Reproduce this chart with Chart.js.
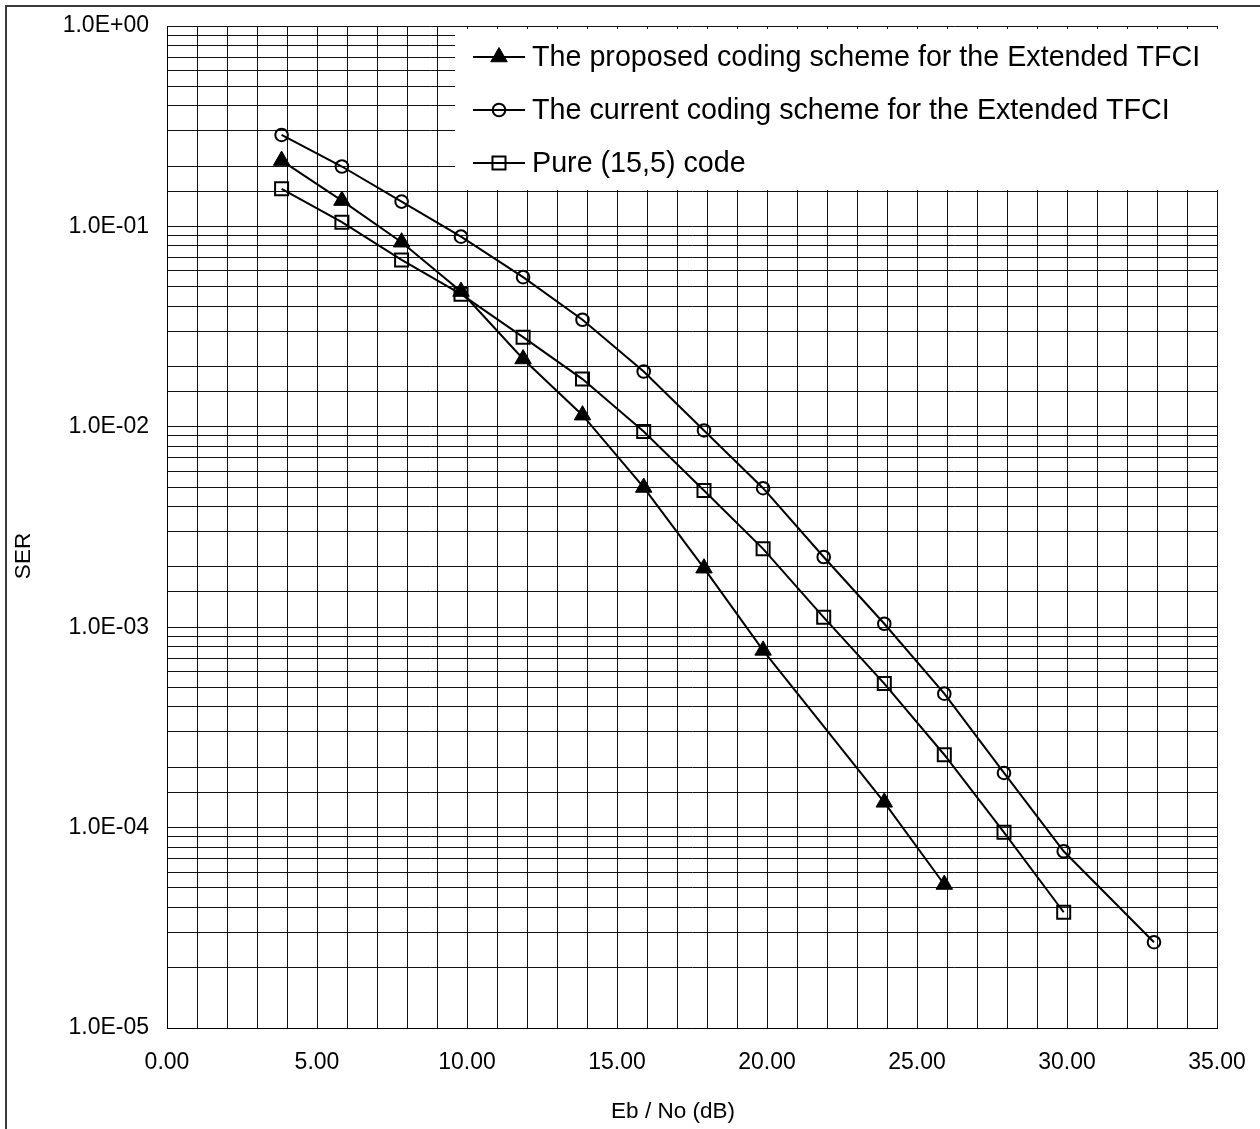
<!DOCTYPE html>
<html>
<head>
<meta charset="utf-8">
<script src="https://cdn.jsdelivr.net/npm/chart.js@4/dist/chart.umd.min.js"></script>
<style>
  html, body { margin: 0; padding: 0; background: #fff; overflow: hidden; }
  #wrap { width: 1260px; height: 1129px; }
</style>
</head>
<body>
<div id="wrap"><canvas id="ser"></canvas></div>
<script>
// Eb/No (dB) operating points of each simulated curve
const proposedEbNo = [3.82, 5.83, 7.82, 9.8, 11.87, 13.85, 15.89, 17.9, 19.87, 23.91, 25.91];
const currentEbNo  = [3.82, 5.83, 7.82, 9.8, 11.87, 13.85, 15.89, 17.9, 19.87, 21.89, 23.91, 25.91, 27.9, 29.89, 32.9];
const pureEbNo     = [3.82, 5.83, 7.82, 9.8, 11.87, 13.85, 15.89, 17.9, 19.87, 21.89, 23.91, 25.91, 27.9, 29.89];

// Symbol error rates
const proposedSER = [0.213, 0.1345, 0.0834, 0.0473, 0.0218, 0.01143, 0.00498, 0.00197, 0.000766, 0.0001337, 0.000052];
const currentSER  = [0.286, 0.199, 0.133, 0.0889, 0.0558, 0.0342, 0.01887, 0.00959, 0.00494, 0.00224, 0.00104, 0.000466, 0.0001874, 0.0000762, 0.0000268];
const pureSER     = [0.154, 0.105, 0.068, 0.0459, 0.028, 0.0173, 0.00947, 0.00481, 0.00246, 0.00112, 0.000523, 0.000231, 0.0000947, 0.0000378];

const seriesLabels = [
  'The proposed coding scheme for the Extended TFCI',
  'The current coding scheme for the Extended TFCI',
  'Pure (15,5) code'
];

const xTitle = 'Eb / No (dB)';
const yTitle = 'SER';

const FONT = '"Liberation Sans", Arial, Helvetica, sans-serif';

function zip(xs, ys) { return xs.map((x, i) => ({ x: x, y: ys[i] })); }

function sciLabel(v) {
  const e = Math.log10(v);
  const r = Math.round(e);
  if (Math.abs(e - r) > 1e-6) return '';
  const sign = r < 0 ? '-' : '+';
  const mag = String(Math.abs(r)).padStart(2, '0');
  return '1.0E' + sign + mag;
}

// Marker drawing shared by the legend so it shows the same symbols as the curves
function drawMarker(ctx, ds, x, y) {
  ctx.save();
  ctx.lineWidth = ds.pointBorderWidth;
  ctx.strokeStyle = ds.pointBorderColor;
  ctx.fillStyle = ds.pointBackgroundColor;
  const r = ds.pointRadius;
  ctx.beginPath();
  if (ds.pointStyle === 'triangle') {
    let a = 0;
    ctx.moveTo(x + Math.sin(a) * r, y - Math.cos(a) * r);
    a += 2 * Math.PI / 3;
    ctx.lineTo(x + Math.sin(a) * r, y - Math.cos(a) * r);
    a += 2 * Math.PI / 3;
    ctx.lineTo(x + Math.sin(a) * r, y - Math.cos(a) * r);
    ctx.closePath();
  } else if (ds.pointStyle === 'rect') {
    const s = r * Math.SQRT1_2;
    ctx.rect(x - s, y - s, 2 * s, 2 * s);
  } else {
    ctx.arc(x, y, r, 0, Math.PI * 2);
  }
  ctx.fill();
  ctx.stroke();
  ctx.restore();
}

const framePlugin = {
  id: 'frame',
  beforeDraw(chart) {
    const ctx = chart.ctx;
    ctx.save();
    ctx.fillStyle = '#fff';
    ctx.fillRect(0, 0, chart.width, chart.height);
    ctx.strokeStyle = '#3a3a3a';
    ctx.lineWidth = 2;
    ctx.strokeRect(6, 6, chart.width + 20, chart.height + 20);
    ctx.restore();
  },
  afterDraw(chart) {
    const ctx = chart.ctx;
    const area = chart.chartArea;
    ctx.save();
    // axis titles
    ctx.fillStyle = '#000';
    ctx.font = '22.5px ' + FONT;
    ctx.textAlign = 'center';
    ctx.textBaseline = 'middle';
    ctx.fillText(xTitle, 673, 1112);
    ctx.translate(24, 556);
    ctx.rotate(-Math.PI / 2);
    ctx.fillText(yTitle, 0, 0);
    ctx.restore();

    // legend panel inside the plot area
    ctx.save();
    const boxLeft = 455, boxTop = area.top + 3;
    ctx.fillStyle = '#fff';
    ctx.fillRect(boxLeft, boxTop, area.right + 2 - boxLeft, 161);
    const rows = [57, 110, 163];
    chart.data.datasets.forEach((ds, i) => {
      const y = rows[i];
      ctx.strokeStyle = ds.borderColor;
      ctx.lineWidth = ds.borderWidth;
      ctx.beginPath();
      ctx.moveTo(473, y);
      ctx.lineTo(525, y);
      ctx.stroke();
      drawMarker(ctx, ds, 499, y);
      ctx.fillStyle = '#000';
      ctx.font = '28.7px ' + FONT;
      ctx.textAlign = 'left';
      ctx.textBaseline = 'middle';
      ctx.fillText(ds.label, 532, y + 1);
    });
    ctx.restore();
  }
};

const lineStyle = { borderColor: '#000', borderWidth: 2, tension: 0, pointBorderColor: '#000', pointBorderWidth: 2 };

new Chart(document.getElementById('ser'), {
  type: 'line',
  data: {
    datasets: [
      Object.assign({}, lineStyle, {
        label: seriesLabels[0],
        data: zip(proposedEbNo, proposedSER),
        pointStyle: 'triangle', pointRadius: 9.5, pointBorderWidth: 1,
        pointBackgroundColor: '#000'
      }),
      Object.assign({}, lineStyle, {
        label: seriesLabels[1],
        data: zip(currentEbNo, currentSER),
        pointStyle: 'circle', pointRadius: 6.3,
        pointBackgroundColor: 'rgba(255,255,255,0)'
      }),
      Object.assign({}, lineStyle, {
        label: seriesLabels[2],
        data: zip(pureEbNo, pureSER),
        pointStyle: 'rect', pointRadius: 9.2,
        pointBackgroundColor: 'rgba(255,255,255,0)'
      })
    ]
  },
  options: {
    responsive: true,
    maintainAspectRatio: false,
    animation: false,
    devicePixelRatio: 1,
    layout: { autoPadding: false, padding: { top: 26, right: 43, left: 0, bottom: 0 } },
    plugins: {
      legend: { display: false },
      title: { display: false },
      tooltip: { enabled: false }
    },
    elements: { point: { hoverRadius: 0 } },
    scales: {
      x: {
        type: 'linear',
        min: 0, max: 35,
        afterFit(scale) {
          scale.height = 101;
          scale.paddingLeft = 0;
          scale.paddingRight = 0;
        },
        grid: { color: '#111', lineWidth: 1, drawTicks: false },
        border: { display: true, color: '#000', width: 1 },
        ticks: {
          stepSize: 1,
          autoSkip: false,
          maxRotation: 0,
          padding: 21,
          color: '#000',
          font: { family: FONT, size: 23 },
          callback: (v) => (Math.round(v) % 5 === 0 ? Number(v).toFixed(2) : '')
        }
      },
      y: {
        type: 'logarithmic',
        min: 1e-5, max: 1,
        afterFit(scale) {
          scale.width = 167;
          scale.paddingTop = 0;
          scale.paddingBottom = 0;
        },
        grid: { color: '#111', lineWidth: 1, drawTicks: false },
        border: { display: true, color: '#000', width: 1 },
        ticks: {
          autoSkip: false,
          padding: 18,
          color: '#000',
          font: { family: FONT, size: 23 },
          callback: (v) => sciLabel(v)
        }
      }
    }
  },
  plugins: [framePlugin]
});
</script>
</body>
</html>
